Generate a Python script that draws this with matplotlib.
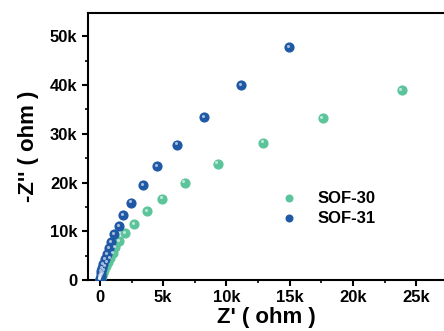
import numpy as np
import matplotlib
matplotlib.use("Agg")
import matplotlib.pyplot as plt
from matplotlib.ticker import FuncFormatter, MultipleLocator
from matplotlib.transforms import ScaledTranslation

plt.rcParams['font.family'] = ['Liberation Sans', 'DejaVu Sans']
plt.rcParams['font.weight'] = 'bold'

# Nyquist data (Z', -Z'') in ohm
sof30_re = [40, 80, 140, 220, 320, 450, 600, 790, 1030, 1180, 1500, 1970, 2700, 3700, 4900, 6700, 9300, 12900, 17600, 23850]
sof30_im = [200, 500, 900, 1400, 2100, 2800, 3600, 4500, 5600, 6800, 8000, 9700, 11500, 14200, 16700, 20000, 23900, 28200, 33200, 39000]
sof31_re = [20, 30, 50, 80, 120, 180, 240, 400, 550, 710, 870, 1110, 1500, 1820, 2450, 3400, 4500, 6080, 8210, 11140, 14930]
sof31_im = [100, 300, 700, 1200, 1800, 2500, 3300, 4300, 5400, 6600, 7800, 9500, 11100, 13400, 15900, 19400, 23300, 27800, 33400, 40000, 47800]

green = '#5bc49b'
blue = '#1f59a5'

fig = plt.figure(figsize=(4.44, 3.31), dpi=100)
ax = fig.add_axes([0.198, 0.154, 0.802, 0.807])

ax.scatter(sof30_re, sof30_im, s=40, color=green, label='SOF-30', zorder=3)
ax.scatter(sof31_re, sof31_im, s=40, color=blue, label='SOF-31', zorder=3)

# little highlight on each ball
hl = ax.transData + ScaledTranslation(-1.2 / 100, 1.2 / 100, fig.dpi_scale_trans)
ax.scatter(sof30_re, sof30_im, s=5, color='white', alpha=0.6, lw=0, transform=hl, zorder=4)
ax.scatter(sof31_re, sof31_im, s=5, color='white', alpha=0.6, lw=0, transform=hl, zorder=4)

ax.set_xlim(-950, 27200)
ax.set_ylim(0, 54800)

kfmt = FuncFormatter(lambda v, p: '0' if v == 0 else '%dk' % round(v / 1000))
ax.xaxis.set_major_locator(MultipleLocator(5000))
ax.xaxis.set_minor_locator(MultipleLocator(2500))
ax.yaxis.set_major_locator(MultipleLocator(10000))
ax.yaxis.set_minor_locator(MultipleLocator(5000))
ax.xaxis.set_major_formatter(kfmt)
ax.yaxis.set_major_formatter(kfmt)

for s in ['left', 'bottom', 'top']:
    ax.spines[s].set_linewidth(1.5)
ax.spines['right'].set_visible(False)
ax.tick_params(which='major', direction='out', length=4, width=1.5, labelsize=12)
ax.tick_params(which='minor', direction='out', length=2.5, width=1.2)

ax.set_xlabel("Z' ( ohm )", fontsize=16, fontweight='bold', labelpad=1)
ax.set_ylabel("-Z'' ( ohm )", fontsize=16, fontweight='bold', labelpad=8)

ax.legend(loc='upper left', bbox_to_anchor=(0.50, 0.36), frameon=False, fontsize=12,
          handletextpad=0.7, labelspacing=0.3, borderaxespad=0, markerscale=0.75)

fig.savefig('out.png', dpi=100)
